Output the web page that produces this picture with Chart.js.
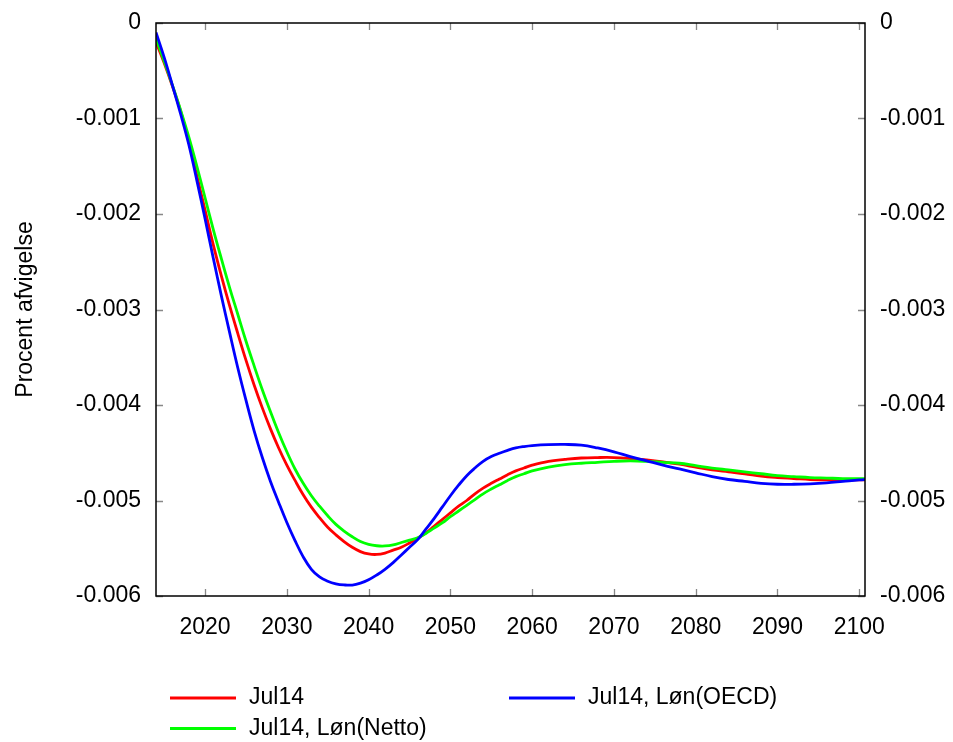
<!DOCTYPE html>
<html>
<head>
<meta charset="utf-8">
<script src="https://cdn.jsdelivr.net/npm/chart.js@4.4.1/dist/chart.umd.min.js"></script>
<style>
  html, body { margin: 0; padding: 0; background: #fff; }
  #wrap { width: 953px; height: 742px; }
</style>
</head>
<body>
<div id="wrap"><canvas id="chart" width="953" height="742"></canvas></div>
<script>
// years on the x axis
var years = [
  2014, 2015, 2016, 2017, 2018, 2019, 2020, 2021, 2022, 2023,
  2024, 2025, 2026, 2027, 2028, 2029, 2030, 2031, 2032, 2033,
  2034, 2035, 2036, 2037, 2038, 2039, 2040, 2041, 2042, 2043,
  2044, 2045, 2046, 2047, 2048, 2049, 2050, 2051, 2052, 2053,
  2054, 2055, 2056, 2057, 2058, 2059, 2060,
  2062, 2064, 2066, 2068, 2070, 2072, 2074, 2076, 2078, 2080,
  2082, 2084, 2086, 2088, 2090, 2092, 2094, 2096, 2098, 2100, 2101
];

// deviation in thousandths of a percent
var jul14 = [
  -0.20, -0.42, -0.66, -0.92, -1.24, -1.60, -1.96, -2.32, -2.65, -2.96,
  -3.25, -3.53, -3.79, -4.03, -4.25, -4.45, -4.63, -4.79, -4.94, -5.07,
  -5.18, -5.28, -5.36, -5.43, -5.49, -5.535, -5.56, -5.565, -5.55, -5.52,
  -5.49, -5.445, -5.395, -5.34, -5.27, -5.20, -5.13, -5.06, -5.00, -4.93,
  -4.87, -4.82, -4.775, -4.73, -4.69, -4.66, -4.63,
  -4.59, -4.57, -4.555, -4.55, -4.55, -4.56, -4.575, -4.595, -4.62, -4.65,
  -4.68, -4.70, -4.72, -4.745, -4.76, -4.77, -4.78, -4.785, -4.785, -4.785, -4.785
];

var jul14Netto = [
  -0.16, -0.40, -0.65, -0.91, -1.19, -1.50, -1.83, -2.16, -2.47, -2.77,
  -3.05, -3.33, -3.59, -3.84, -4.07, -4.29, -4.49, -4.67, -4.82, -4.95,
  -5.06, -5.16, -5.25, -5.32, -5.38, -5.43, -5.46, -5.474, -5.476, -5.465,
  -5.44, -5.415, -5.39, -5.345, -5.29, -5.235, -5.17, -5.11, -5.05, -4.99,
  -4.93, -4.88, -4.835, -4.79, -4.75, -4.72, -4.69,
  -4.65, -4.625, -4.61, -4.60, -4.59, -4.585, -4.59, -4.60, -4.61, -4.635,
  -4.66, -4.68, -4.70, -4.72, -4.74, -4.75, -4.76, -4.765, -4.77, -4.77, -4.77
];

var jul14Oecd = [
  -0.10, -0.36, -0.65, -0.95, -1.27, -1.65, -2.05, -2.46, -2.86, -3.24,
  -3.61, -3.95, -4.27, -4.55, -4.80, -5.02, -5.23, -5.42, -5.59, -5.72,
  -5.80, -5.845, -5.872, -5.884, -5.885, -5.865, -5.83, -5.78, -5.72, -5.65,
  -5.57, -5.49, -5.41, -5.30, -5.19, -5.07, -4.95, -4.84, -4.74, -4.66,
  -4.59, -4.54, -4.505, -4.475, -4.45, -4.435, -4.425,
  -4.415, -4.413, -4.42, -4.45, -4.49, -4.54, -4.585, -4.63, -4.67, -4.71,
  -4.75, -4.78, -4.80, -4.82, -4.83, -4.83, -4.825, -4.815, -4.80, -4.785, -4.78
];

var seriesNames = ['Jul14', 'Jul14, Løn(Netto)', 'Jul14, Løn(OECD)'];
var xTicks = [2020, 2030, 2040, 2050, 2060, 2070, 2080, 2090, 2100];
var yTicks = [0, -0.001, -0.002, -0.003, -0.004, -0.005, -0.006];

var FONT = 'Liberation Sans, Arial, Helvetica, sans-serif';

function toPoints(vals) {
    return vals.map(function(v, i) {
        return { x: years[i], y: v / 1000 };
    });
}

function fmtY(v) {
    if (Math.abs(v) < 1e-12) return '0';
    return v.toFixed(3);
}

// fixed width for the y axes, and no extra room for the end labels
function fitY(width) {
    return function(s) {
        s.width = width;
        s.paddingTop = 0;
        s.paddingBottom = 0;
    };
}

// frame, inward tick marks (mirrored) and the two-column legend
var framePlugin = {
    id: 'frame',
    afterDraw: function(chart) {
        var ctx = chart.ctx;
        var a = chart.chartArea;
        var xs = chart.scales.x;
        var ys = chart.scales.y;

        ctx.save();
        ctx.strokeStyle = '#888888';
        ctx.lineWidth = 1.3;
        ctx.beginPath();
        xTicks.forEach(function(t) {
            var px = Math.round(xs.getPixelForValue(t)) + 0.5;
            ctx.moveTo(px, a.bottom); ctx.lineTo(px, a.bottom - 7);
            ctx.moveTo(px, a.top); ctx.lineTo(px, a.top + 7);
        });
        yTicks.forEach(function(t) {
            var py = Math.round(ys.getPixelForValue(t)) + 0.5;
            ctx.moveTo(a.left, py); ctx.lineTo(a.left + 7, py);
            ctx.moveTo(a.right, py); ctx.lineTo(a.right - 7, py);
        });
        ctx.stroke();

        ctx.strokeStyle = '#000000';
        ctx.lineWidth = 1.5;
        ctx.strokeRect(a.left, a.top, a.right - a.left, a.bottom - a.top);

        // legend, filled column by column like the original
        var slots = [
            { lx: 170, ty: 698 },
            { lx: 170, ty: 728.5 },
            { lx: 509, ty: 698 }
        ];
        ctx.font = '23px ' + FONT;
        ctx.fillStyle = '#000000';
        ctx.textAlign = 'left';
        ctx.textBaseline = 'middle';
        chart.data.datasets.forEach(function(ds, i) {
            var s = slots[i];
            ctx.strokeStyle = ds.borderColor;
            ctx.lineWidth = 3;
            ctx.beginPath();
            ctx.moveTo(s.lx, s.ty);
            ctx.lineTo(s.lx + 66, s.ty);
            ctx.stroke();
            ctx.fillText(ds.label, s.lx + 79, s.ty);
        });
        ctx.restore();
    }
};

var ctx = document.getElementById('chart').getContext('2d');

new Chart(ctx, {
    type: 'line',
    data: {
        datasets: [{
            label: seriesNames[0],
            data: toPoints(jul14),
            borderColor: '#ff0000',
            order: 2
        }, {
            label: seriesNames[1],
            data: toPoints(jul14Netto),
            borderColor: '#00ff00',
            order: 1
        }, {
            label: seriesNames[2],
            data: toPoints(jul14Oecd),
            borderColor: '#0000ff',
            order: 0
        }]
    },
    options: {
        responsive: false,
        animation: false,
        devicePixelRatio: 1,
        layout: {
            padding: { top: 23, left: 0, right: 0, bottom: 0 }
        },
        elements: {
            point: { radius: 0 },
            line: { borderWidth: 2.8, tension: 0.4, fill: false }
        },
        plugins: {
            legend: { display: false },
            tooltip: { enabled: false }
        },
        scales: {
            x: {
                type: 'linear',
                min: 2014,
                max: 2100.7,
                afterBuildTicks: function(s) {
                    s.ticks = xTicks.map(function(v) { return { value: v }; });
                },
                afterFit: function(s) { s.height = 146; },
                grid: { display: false, drawTicks: false },
                border: { display: false },
                ticks: {
                    color: '#000',
                    padding: 18,
                    maxRotation: 0,
                    autoSkip: false,
                    font: { family: FONT, size: 23 },
                    callback: function(v) { return String(v); }
                }
            },
            y: {
                position: 'left',
                min: -0.006,
                max: 0,
                afterBuildTicks: function(s) {
                    s.ticks = yTicks.map(function(v) { return { value: v }; });
                },
                afterFit: fitY(156),
                grid: { display: false, drawTicks: false },
                border: { display: false },
                ticks: {
                    color: '#000',
                    padding: 15,
                    font: { family: FONT, size: 23 },
                    callback: fmtY
                },
                title: {
                    display: true,
                    text: 'Procent afvigelse',
                    color: '#000',
                    font: { family: FONT, size: 23 },
                    padding: { top: 12, bottom: 0 }
                }
            },
            y2: {
                position: 'right',
                min: -0.006,
                max: 0,
                afterBuildTicks: function(s) {
                    s.ticks = yTicks.map(function(v) { return { value: v }; });
                },
                afterFit: fitY(88),
                grid: { display: false, drawTicks: false },
                border: { display: false },
                ticks: {
                    color: '#000',
                    padding: 15,
                    font: { family: FONT, size: 23 },
                    callback: fmtY
                }
            }
        }
    },
    plugins: [framePlugin]
});
</script>
</body>
</html>
